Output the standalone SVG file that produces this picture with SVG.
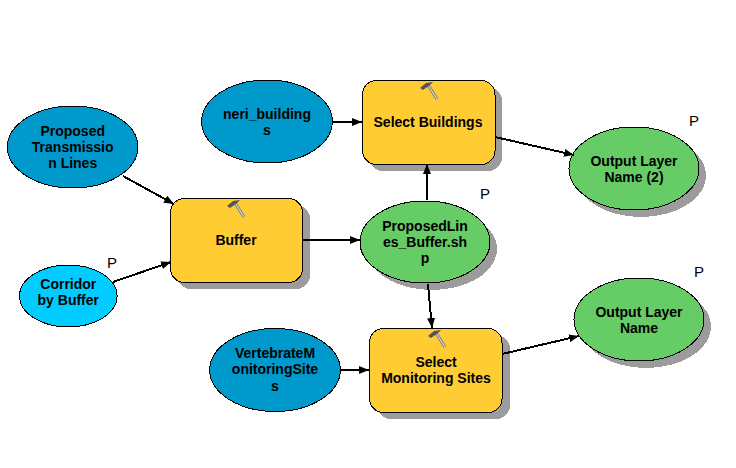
<svg xmlns="http://www.w3.org/2000/svg" width="736" height="468" viewBox="0 0 736 468">
<style>
text{font-family:"Liberation Sans",Arial,sans-serif;font-size:14px;font-weight:bold;fill:#000;text-anchor:middle}
.p{font-weight:normal;font-size:15px}
.s{fill:#9c9c9c;shape-rendering:crispEdges}
.o{stroke:#000;stroke-width:1;shape-rendering:crispEdges}
.blue{fill:#0099cc}
.cyan{fill:#00ccff}
.green{fill:#66cc66}
.tool{fill:#ffcc33}
.c{stroke:#000;stroke-width:2;fill:none;marker-end:url(#a);shape-rendering:crispEdges}
</style>
<defs>
<marker id="a" viewBox="0 0 10 8" refX="10" refY="4" markerWidth="10" markerHeight="8" markerUnits="userSpaceOnUse" orient="auto"><path d="M0 0L10 4L0 8Z" fill="#000"/></marker>
<g id="h">
<path d="M1 -6L10 8" stroke="#777" stroke-width="3" fill="none"/>
<path d="M1 -6L10 8" stroke="#ddd" stroke-width="1.200" fill="none"/>
<path d="M-7 -3L-1 -8L6 -9L3 -6L-4 -1Z" fill="#555"/>
</g>
</defs>
<rect width="736" height="468" fill="#fff"/>
<g id="proposed-lines"><ellipse class="blue o" cx="72.7" cy="147" rx="65.3" ry="41"/><text x="72.700" y="136">Proposed</text><text x="72.700" y="152">Transmissio</text><text x="72.700" y="168">n Lines</text></g>
<g id="corridor"><ellipse class="cyan o" cx="68.3" cy="296" rx="48.8" ry="31"/><text x="68.300" y="289">Corridor</text><text x="68.300" y="305">by Buffer</text><text class="p" x="112" y="268">P</text></g>
<g id="buffer"><rect class="s" x="177" y="205" width="133" height="84" rx="14"/><rect class="tool o" x="170.500" y="198.500" width="132" height="84" rx="14"/><use href="#h" x="234" y="209"/><text x="236" y="245">Buffer</text></g>
<g id="neri"><ellipse class="blue o" cx="267" cy="121.500" rx="65.300" ry="41.500"/><text x="267" y="119">neri_building</text><text x="267" y="135">s</text></g>
<g id="select-buildings"><rect class="s" x="369" y="87" width="133" height="84" rx="14"/><rect class="tool o" x="362.500" y="80.500" width="132.500" height="84" rx="14"/><use href="#h" x="427" y="91"/><text x="428" y="127">Select Buildings</text></g>
<g id="buffer-output"><ellipse class="s" cx="432" cy="249" rx="65" ry="41"/><ellipse class="green o" cx="425" cy="242" rx="65" ry="41"/><text x="425" y="231">ProposedLin</text><text x="425" y="247">es_Buffer.sh</text><text x="425" y="263">p</text><text class="p" x="485" y="199">P</text></g>
<g id="output-2"><ellipse class="s" cx="641" cy="175.500" rx="65" ry="41.500"/><ellipse class="green o" cx="634" cy="168.500" rx="65" ry="41.500"/><text x="634" y="166">Output Layer</text><text x="634" y="182">Name (2)</text><text class="p" x="694" y="126">P</text></g>
<g id="vertebrate"><ellipse class="blue o" cx="275" cy="370" rx="65.300" ry="41.500"/><text x="275" y="358">VertebrateM</text><text x="275" y="374">onitoringSite</text><text x="275" y="391">s</text></g>
<g id="select-monitoring"><rect class="s" x="377" y="335" width="133" height="84" rx="14"/><rect class="tool o" x="369.500" y="328.500" width="132.500" height="84" rx="14"/><use href="#h" x="435" y="339"/><text x="436" y="367">Select</text><text x="436" y="383">Monitoring Sites</text></g>
<g id="output"><ellipse class="s" cx="646" cy="326.500" rx="65" ry="41.500"/><ellipse class="green o" cx="639" cy="319.500" rx="65" ry="41.500"/><text x="639" y="317">Output Layer</text><text x="639" y="333">Name</text><text class="p" x="699" y="277">P</text></g>
<g id="connectors">
<path class="c" d="M123 176L174 204"/>
<path class="c" d="M113 282L171 262"/>
<path class="c" d="M302 240L360 240"/>
<path class="c" d="M332 122L362 122"/>
<path class="c" d="M495 137L574 155"/>
<path class="c" d="M427 200L427 164"/>
<path class="c" d="M428 284L432 328"/>
<path class="c" d="M340 370L369 370"/>
<path class="c" d="M502 354L579 336"/>
</g>
</svg>
